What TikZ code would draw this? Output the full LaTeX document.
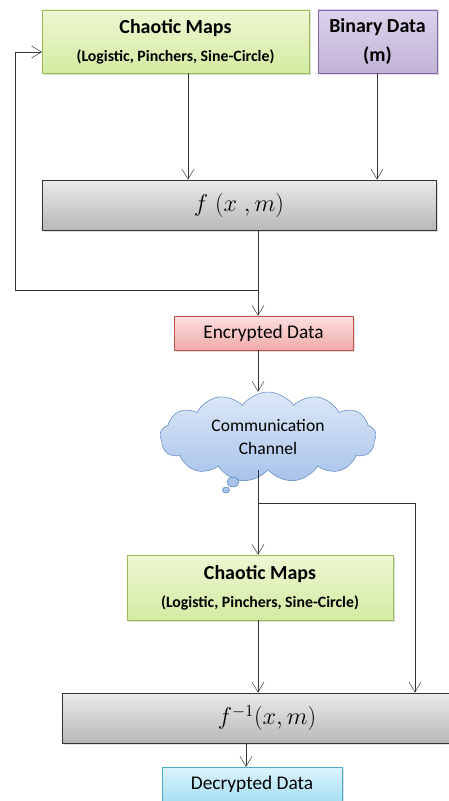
\documentclass[tikz,border=0pt]{standalone}
\usepackage{fontspec}
\setmainfont{Carlito}
\usepackage{xcolor}
\usetikzlibrary{calc,positioning,shapes.symbols,arrows.meta,shadows}
\definecolor{mapfillA}{HTML}{EEF7D2}
\definecolor{mapfillB}{HTML}{D3EBA2}
\definecolor{mapline}{HTML}{9BBB59}
\definecolor{binfillA}{HTML}{DCD3EB}
\definecolor{binfillB}{HTML}{C2B3D8}
\definecolor{binline}{HTML}{8064A2}
\definecolor{encfillA}{HTML}{FCE0DF}
\definecolor{encfillB}{HTML}{F0ABAA}
\definecolor{encline}{HTML}{C0504D}
\definecolor{chfillA}{HTML}{DDE8F8}
\definecolor{chfillB}{HTML}{A8C3EA}
\definecolor{chline}{HTML}{4F81BD}
\definecolor{decfillA}{HTML}{DDF4FC}
\definecolor{decfillB}{HTML}{A6DFF2}
\definecolor{decline}{HTML}{4BACC6}

\begin{document}
\begin{tikzpicture}[
  x=0.3mm, y=-0.3mm,
  every node/.style={font=\fontsize{16.5}{19}\selectfont},
  shade/.style={drop shadow={shadow xshift=0.6mm, shadow yshift=-0.6mm, opacity=0.25}},
  chaos/.style={shade, draw=mapline, top color=mapfillA, bottom color=mapfillB, minimum width=80mm, minimum height=19mm, align=center, font=\fontsize{17}{24}\selectfont\bfseries},
  binary/.style={shade, draw=binline, top color=binfillA, bottom color=binfillB, minimum width=35.7mm, minimum height=19mm, align=center, font=\fontsize{17}{24}\selectfont\bfseries},
  func/.style={shade, draw=black!80, thick, top color=white!92!black, bottom color=black!28, minimum height=15mm, font=\fontsize{22}{24}\selectfont},
  encdata/.style={shade, draw=encline, top color=encfillA, bottom color=encfillB, minimum width=53.7mm, minimum height=10.2mm},
  decdata/.style={shade, draw=decline, top color=decfillA, bottom color=decfillB, minimum width=54mm, minimum height=10.2mm},
  channel/.style={draw=chline, top color=chfillA, bottom color=chfillB, cloud, cloud puffs=13, cloud puff arc=110, aspect=2.4, minimum width=64.8mm, minimum height=27mm, align=center, inner sep=0pt, font=\fontsize{15}{18}\selectfont},
  arr/.style={-{Straight Barb[length=3mm, width=3.6mm]}, black!80}
]
  \useasboundingbox (0,0) rectangle (449,801);
  \clip (0,0) rectangle (449,801);

  % encryption side
  \node[chaos] (map1) at (175.5,41.5) {Chaotic Maps\\{\fontsize{13.5}{15}\selectfont(Logistic, Pinchers, Sine-Circle)}};
  \node[binary] (bin) at (377.5,41.5) {Binary Data\\(m)};
  \node[func, minimum width=118.2mm] (fwd) at (239,205) {$f\;(x\;,m)$};
  \node[encdata] (enc) at (263.5,333) {Encrypted Data};

  % channel
  \node[channel] (chan) at (268,437) {Communication\\[2pt]Channel};
  \filldraw[draw=chline, fill=chfillB] (233,482) ellipse (6 and 5);
  \filldraw[draw=chline, fill=chfillB] (226,490) ellipse (3.5 and 3);

  % decryption side
  \node[chaos, minimum width=79.8mm, minimum height=19.5mm] (map2) at (260,587.5) {Chaotic Maps\\{\fontsize{13.5}{15}\selectfont(Logistic, Pinchers, Sine-Circle)}};
  \node[func, minimum width=123mm] (inv) at (267,718) {$f^{-1}(x,m)$};
  \node[decdata] (dec) at (252,784) {Decrypted Data};

  \coordinate (colA) at (188,0);
  \coordinate (colB) at (377,0);
  \coordinate (colC) at (258,0);
  \coordinate (colD) at (246,0);
  \coordinate (junc) at (258,290);
  \coordinate (loop) at (15,52);
  \coordinate (brk) at (258,503);
  \coordinate (side) at (415,503);

  \draw[arr] (map1.south -| colA) -- (fwd.north -| colA);
  \draw[arr] (bin.south -| colB) -- (fwd.north -| colB);
  \draw[arr] (fwd.south -| colC) -- (enc.north -| colC);
  \draw[arr] (junc) -| (loop) -- (map1.west |- loop);
  \draw[arr] (enc.south -| colC) -- (chan.north -| colC);
  \draw[arr] (chan.south -| colC) -- (map2.north -| colC);
  \draw[arr] (brk) -- (side) -- (inv.north -| side);
  \draw[arr] (map2.south -| colC) -- (inv.north -| colC);
  \draw[arr] (inv.south -| colD) -- (dec.north -| colD);
\end{tikzpicture}
\end{document}
